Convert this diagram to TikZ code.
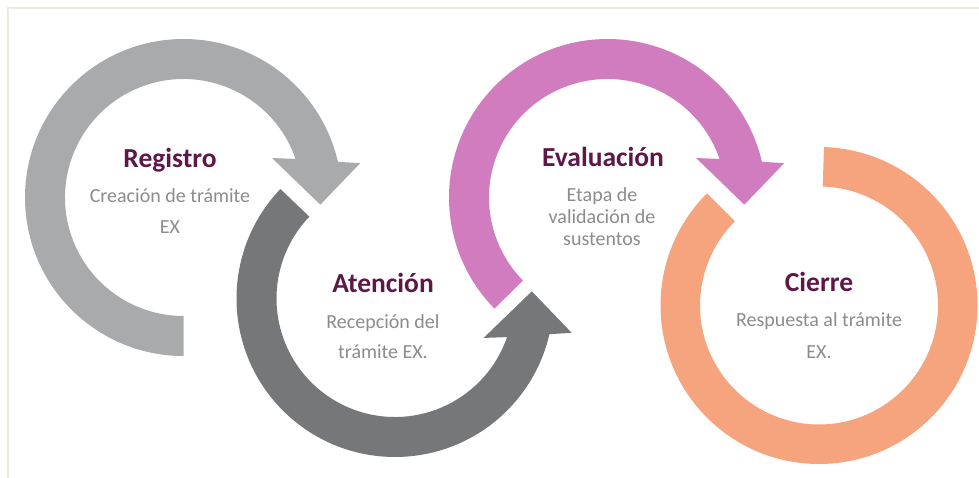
\documentclass[tikz,border=0pt]{standalone}
\usepackage{fontspec}
\setmainfont{Carlito}
\usetikzlibrary{calc}
\definecolor{ringA}{HTML}{A9AAAC}
\definecolor{ringB}{HTML}{767779}
\definecolor{ringC}{HTML}{D07CBE}
\definecolor{ringD}{HTML}{F6A47D}
\definecolor{titlec}{HTML}{5E1848}
\definecolor{descc}{HTML}{8C8C8C}
\definecolor{framec}{HTML}{EDEAE1}
\begin{document}
\begin{tikzpicture}[x=1bp,y=1bp,
  title/.style={font=\fontsize{27.5bp}{30bp}\selectfont\bfseries, text=titlec, inner sep=0pt, anchor=base},
  desc/.style={font=\fontsize{20bp}{#1}\selectfont, text=descc, inner sep=0pt, anchor=base, align=center}]
\useasboundingbox (0,0) rectangle (979,-478);
\fill[white] (0,0) rectangle (979,-478);
\draw[framec, line width=2bp] (8,-478) -- (8,-8) -- (979,-8);

\coordinate (cA) at (183.5,-197.5);
\coordinate (cB) at (395,-298.5);
\coordinate (cC) at (607.5,-197.5);
\coordinate (cD) at (819,-305.5);

% Registro arrow (clockwise)
\fill[ringA] ($(cA)+(270:158.5)$) arc[start angle=270, end angle=13, radius=158.5]
  -- ($(cA)+(11:180)$) -- ($(cA)+(-3:137)$) -- ($(cA)+(24:97)$) -- ($(cA)+(19:118.5)$)
  arc[start angle=19, end angle=270, radius=118.5] -- cycle;
% Atencion arrow (counter-clockwise)
\fill[ringB] ($(cB)+(136.3:158.5)$) arc[start angle=136.3, end angle=347, radius=158.5]
  -- ($(cB)+(349:180)$) -- ($(cB)+(363:137)$) -- ($(cB)+(336:97)$) -- ($(cB)+(341:118.5)$)
  arc[start angle=341, end angle=136.3, radius=118.5] -- cycle;
% Evaluacion arrow (clockwise)
\fill[ringC] ($(cC)+(224.5:158.5)$) arc[start angle=224.5, end angle=13, radius=158.5]
  -- ($(cC)+(11:180)$) -- ($(cC)+(-3:137)$) -- ($(cC)+(24:97)$) -- ($(cC)+(19:118.5)$)
  arc[start angle=19, end angle=224.5, radius=118.5] -- cycle;
% Cierre ring
\fill[ringD] ($(cD)+(135:158.5)$) arc[start angle=135, end angle=448.2, radius=158.5]
  -- ($(cD)+(88.2:119)$) arc[start angle=448.2, end angle=135, radius=119] -- cycle;

\node[title] (t1) at (170,-168) {Registro};
\node[desc=31bp] (d1) at (170,-234) {Creación de trámite\\EX};
\node[title] (t2) at (383,-293) {Atención};
\node[desc=30bp] (d2) at (383,-359) {Recepción del\\trámite EX.};
\node[title] (t3) at (603,-167) {Evaluación};
\node[desc=22bp] (d3) at (602,-246) {Etapa de\\validación de\\sustentos};
\node[title] (t4) at (819,-292) {Cierre};
\node[desc=32bp] (d4) at (819,-359) {Respuesta al trámite\\EX.};
\end{tikzpicture}
\end{document}
